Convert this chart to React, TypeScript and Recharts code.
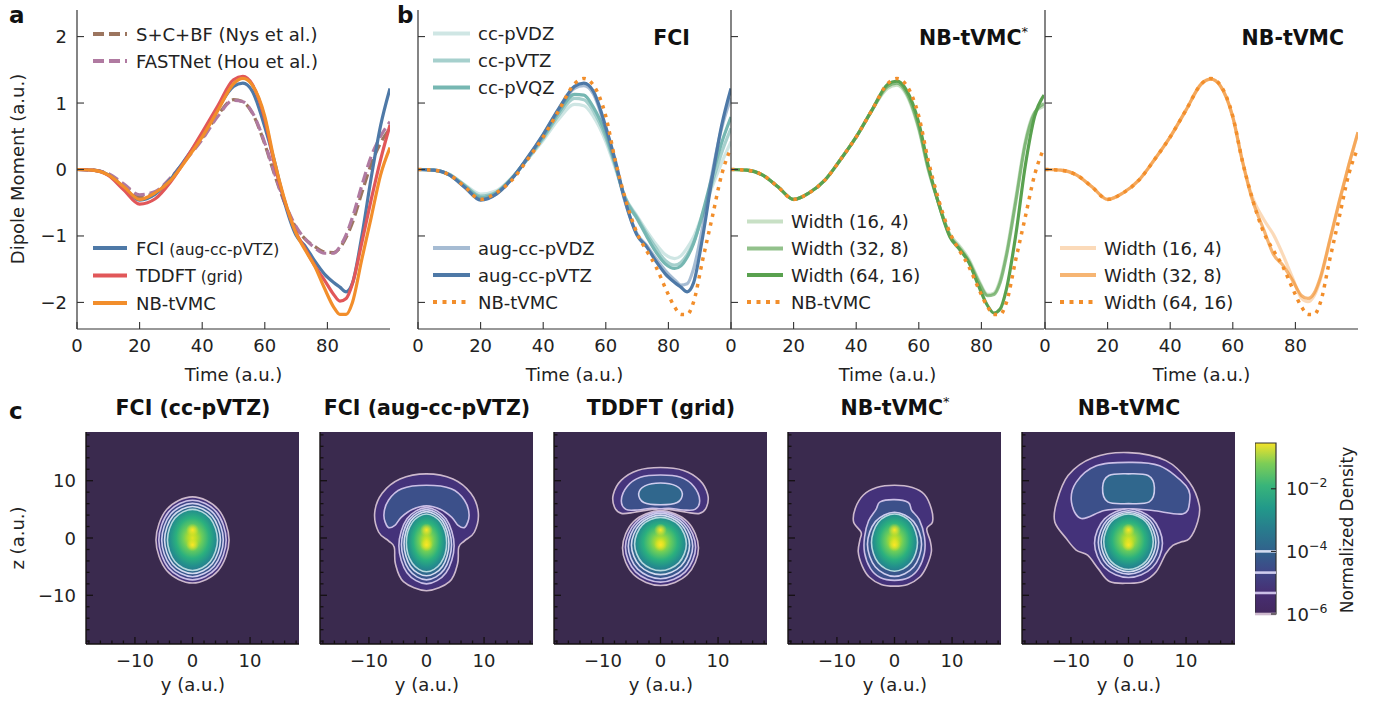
import React from "react";
import {
  LineChart,
  Line,
  XAxis,
  YAxis,
  ScatterChart,
  Scatter,
  CartesianGrid,
  ReferenceArea,
  ReferenceLine,
} from "recharts";

// ---------- dipole moment traces (panel a + b) ----------
const TIME = [0, 5, 10, 15, 20, 25, 30, 35, 40, 45, 50, 53, 56, 60, 63, 66, 70, 73, 76, 79, 82, 84, 86, 88, 91, 94, 97, 100];

const NB_TVMC = [0, -0.01, -0.08, -0.26, -0.45, -0.35, -0.16, 0.15, 0.49, 0.89, 1.29, 1.37, 1.27, 0.8, 0.14, -0.4, -0.96, -1.22, -1.46, -1.78, -2.07, -2.18, -2.18, -2.0, -1.35, -0.72, -0.08, 0.33];
const FCI_AUG_TZ = [0, -0.01, -0.08, -0.27, -0.46, -0.37, -0.14, 0.18, 0.53, 0.92, 1.25, 1.3, 1.18, 0.64, 0.14, -0.44, -0.99, -1.16, -1.38, -1.57, -1.7, -1.77, -1.84, -1.71, -1.0, -0.12, 0.66, 1.22];
const FCI_AUG_DZ = [0, -0.01, -0.08, -0.27, -0.45, -0.37, -0.14, 0.17, 0.52, 0.9, 1.22, 1.26, 1.14, 0.6, 0.1, -0.46, -0.97, -1.14, -1.34, -1.52, -1.66, -1.74, -1.72, -1.5, -0.85, -0.05, 0.62, 1.08];
const FCI_DZ = [0, -0.01, -0.07, -0.23, -0.37, -0.32, -0.12, 0.15, 0.44, 0.76, 0.98, 0.96, 0.8, 0.42, 0.02, -0.4, -0.7, -0.92, -1.12, -1.28, -1.34, -1.3, -1.18, -1.02, -0.66, -0.26, 0.1, 0.42];
const FCI_TZ = [0, -0.01, -0.07, -0.24, -0.4, -0.34, -0.13, 0.16, 0.47, 0.82, 1.07, 1.05, 0.88, 0.48, 0.06, -0.4, -0.72, -0.96, -1.18, -1.37, -1.44, -1.4, -1.28, -1.1, -0.68, -0.2, 0.25, 0.62];
const FCI_QZ = [0, -0.01, -0.08, -0.25, -0.42, -0.35, -0.13, 0.17, 0.49, 0.86, 1.13, 1.12, 0.94, 0.53, 0.08, -0.42, -0.74, -1.0, -1.24, -1.42, -1.49, -1.45, -1.32, -1.12, -0.64, -0.1, 0.4, 0.79];
const TDDFT_GRID = [0, -0.01, -0.09, -0.31, -0.52, -0.44, -0.18, 0.17, 0.56, 0.96, 1.35, 1.4, 1.28, 0.76, 0.1, -0.42, -0.95, -1.2, -1.45, -1.66, -1.88, -1.98, -1.94, -1.72, -1.1, -0.45, 0.15, 0.67];
const SCBF_NYS = [0, -0.01, -0.07, -0.24, -0.41, -0.35, -0.13, 0.17, 0.47, 0.82, 1.05, 1.02, 0.85, 0.38, -0.06, -0.46, -0.88, -1.05, -1.16, -1.24, -1.25, -1.18, -1.02, -0.8, -0.35, 0.08, 0.4, 0.62];
const FASTNET_HOU = [0, -0.01, -0.06, -0.22, -0.38, -0.33, -0.12, 0.16, 0.45, 0.8, 1.04, 1.02, 0.86, 0.4, -0.04, -0.45, -0.86, -1.05, -1.18, -1.26, -1.26, -1.16, -0.98, -0.72, -0.24, 0.2, 0.5, 0.72];
const STAR_W16 = [0, -0.01, -0.08, -0.26, -0.45, -0.35, -0.16, 0.15, 0.49, 0.89, 1.22, 1.27, 1.13, 0.6, 0.0, -0.46, -0.98, -1.15, -1.35, -1.65, -1.88, -1.86, -1.66, -1.25, -0.42, 0.42, 0.86, 0.95];
const STAR_W32 = [0, -0.01, -0.08, -0.26, -0.45, -0.35, -0.16, 0.15, 0.49, 0.89, 1.25, 1.3, 1.16, 0.63, 0.02, -0.46, -1.0, -1.18, -1.38, -1.68, -1.9, -1.88, -1.7, -1.3, -0.48, 0.38, 0.85, 0.99];
const STAR_W64 = [0, -0.01, -0.08, -0.26, -0.45, -0.35, -0.16, 0.15, 0.49, 0.89, 1.28, 1.33, 1.2, 0.7, 0.06, -0.46, -1.02, -1.2, -1.4, -1.74, -2.05, -2.16, -2.1, -1.8, -0.98, 0.05, 0.8, 1.12];
const NB_W16 = [0, -0.01, -0.08, -0.26, -0.45, -0.35, -0.16, 0.15, 0.49, 0.89, 1.29, 1.36, 1.26, 0.79, 0.14, -0.38, -0.76, -0.98, -1.28, -1.62, -1.94, -1.99, -1.9, -1.65, -1.08, -0.5, 0.05, 0.56];
const NB_W32 = [0, -0.01, -0.08, -0.26, -0.45, -0.35, -0.16, 0.15, 0.49, 0.89, 1.29, 1.36, 1.26, 0.79, 0.14, -0.42, -0.92, -1.28, -1.44, -1.66, -1.9, -1.94, -1.86, -1.62, -1.06, -0.48, 0.06, 0.56];

const TIME_TICKS = [0, 20, 40, 60, 80];
const DIPOLE_TICKS = [-2, -1, 0, 1, 2];

const ROWS = TIME.map((t, i) => ({
  t,
  nb: NB_TVMC[i],
  augTz: FCI_AUG_TZ[i],
  augDz: FCI_AUG_DZ[i],
  dz: FCI_DZ[i],
  tz: FCI_TZ[i],
  qz: FCI_QZ[i],
  tddft: TDDFT_GRID[i],
  scbf: SCBF_NYS[i],
  fast: FASTNET_HOU[i],
  s16: STAR_W16[i],
  s32: STAR_W32[i],
  s64: STAR_W64[i],
  n16: NB_W16[i],
  n32: NB_W32[i],
}));

// ---------- density contours (panel c), points are [y, z] in a.u. ----------
const TZ_L1 = [[0, 7.17], [4.49, 4.97], [6.35, -0.35], [4.49, -5.66], [0, -7.86], [-4.49, -5.66], [-6.35, -0.35], [-4.49, 4.97]];
const TZ_L2 = [[0, 6.6], [4.14, 4.56], [5.85, -0.35], [4.14, -5.26], [0, -7.3], [-4.14, -5.26], [-5.85, -0.35], [-4.14, 4.56]];
const TZ_L3 = [[0, 6.05], [3.78, 4.17], [5.35, -0.35], [3.78, -4.87], [0, -6.75], [-3.78, -4.87], [-5.35, -0.35], [-3.78, 4.17]];
const TZ_L4 = [[0, 5.5], [3.43, 3.79], [4.85, -0.35], [3.43, -4.49], [0, -6.2], [-3.43, -4.49], [-4.85, -0.35], [-3.43, 3.79]];
const TZ_L5 = [[0, 5.0], [3.08, 3.44], [4.35, -0.34], [3.08, -4.12], [0, -5.68], [-3.08, -4.12], [-4.35, -0.34], [-3.08, 3.44]];

const ATZ_L1 = [[0, 11.2], [4.6, 10.3], [7.7, 7.8], [9.0, 4.4], [8.3, 1.0], [6.6, -0.5], [5.6, -1.6], [5.4, -4.5], [4.0, -7.6], [0, -9.2], [-4.0, -7.6], [-5.4, -4.5], [-5.6, -1.6], [-6.6, -0.5], [-8.3, 1.0], [-9.0, 4.4], [-7.7, 7.8], [-4.6, 10.3]];
const ATZ_CAP = [[0, 9.2], [4.3, 8.6], [6.6, 6.6], [7.4, 4.0], [6.7, 1.9], [5.5, 2.2], [4.4, 3.6], [2.4, 5.0], [0, 5.6], [-2.4, 5.0], [-4.4, 3.6], [-5.5, 2.2], [-6.7, 1.9], [-7.4, 4.0], [-6.6, 6.6], [-4.3, 8.6]];
const ATZ_L2 = [[0, 5.3], [3.39, 3.35], [4.8, -1.35], [3.39, -6.05], [0, -8.0], [-3.39, -6.05], [-4.8, -1.35], [-3.39, 3.35]];
const ATZ_L3 = [[0, 4.95], [3.08, 3.15], [4.35, -1.18], [3.08, -5.51], [0, -7.3], [-3.08, -5.51], [-4.35, -1.18], [-3.08, 3.15]];
const ATZ_L4 = [[0, 4.6], [2.76, 2.96], [3.9, -1.0], [2.76, -4.96], [0, -6.6], [-2.76, -4.96], [-3.9, -1.0], [-2.76, 2.96]];
const ATZ_L5 = [[0, 4.2], [2.47, 2.72], [3.5, -0.85], [2.47, -4.42], [0, -5.9], [-2.47, -4.42], [-3.5, -0.85], [-2.47, 2.72]];

const GRID_CAP1 = [[0, 12.3], [4.0, 11.8], [6.8, 10.1], [8.2, 7.6], [8.0, 5.4], [6.8, 4.3], [4.5, 4.5], [1.5, 5.0], [0, 4.8], [-1.5, 5.0], [-4.5, 4.5], [-6.8, 4.3], [-8.0, 5.4], [-8.2, 7.6], [-6.8, 10.1], [-4.0, 11.8]];
const GRID_CAP2 = [[0, 11.0], [3.5, 10.6], [5.8, 9.0], [6.8, 6.6], [6.0, 5.0], [4.0, 4.9], [1.5, 5.2], [0, 5.1], [-1.5, 5.2], [-4.0, 4.9], [-6.0, 5.0], [-6.8, 6.6], [-5.8, 9.0], [-3.5, 10.6]];
const GRID_CAP3 = [[0, 9.6], [2.7, 9.1], [3.8, 7.7], [2.9, 6.2], [0, 5.8], [-2.9, 6.2], [-3.8, 7.7], [-2.7, 9.1]];
const GRID_L1 = [[0, 4.8], [4.67, 2.88], [6.6, -1.75], [4.67, -6.38], [0, -8.3], [-4.67, -6.38], [-6.6, -1.75], [-4.67, 2.88]];
const GRID_L2 = [[0, 4.6], [4.31, 2.71], [6.1, -1.6], [4.31, -5.91], [0, -7.7], [-4.31, -5.91], [-6.1, -1.6], [-4.31, 2.71]];
const GRID_L3 = [[0, 4.35], [3.96, 2.54], [5.6, -1.45], [3.96, -5.44], [0, -7.1], [-3.96, -5.44], [-5.6, -1.45], [-3.96, 2.54]];
const GRID_L4 = [[0, 4.0], [3.57, 2.39], [5.05, -1.25], [3.57, -4.89], [0, -6.4], [-3.57, -4.89], [-5.05, -1.25], [-3.57, 2.39]];
const GRID_L5 = [[0, 3.6], [3.18, 2.24], [4.5, -1.05], [3.18, -4.34], [0, -5.7], [-3.18, -4.34], [-4.5, -1.05], [-3.18, 2.24]];

const STAR_L1 = [[0, 9.2], [3.1, 8.8], [5.2, 7.6], [6.4, 5.1], [6.6, 2.8], [5.6, 1.6], [6.2, -0.5], [6.4, -2.4], [5.6, -4.9], [4.4, -6.8], [2.3, -8.1], [0, -8.4], [-2.3, -8.1], [-4.4, -6.8], [-5.6, -4.9], [-6.3, -2.4], [-6.0, -0.3], [-5.8, 1.0], [-7.1, 2.8], [-6.8, 5.2], [-5.4, 7.5], [-3.1, 8.8]];
const STAR_L2 = [[0, 6.7], [2.4, 6.2], [3.0, 4.8], [4.3, 3.2], [5.2, 0.2], [5.2, -2.6], [4.2, -5.3], [2.5, -6.9], [0, -7.4], [-2.5, -6.9], [-4.2, -5.3], [-5.2, -2.6], [-5.2, 0.2], [-4.5, 3.0], [-3.2, 5.0], [-2.5, 6.3]];
const STAR_L3 = [[0, 4.5], [3.32, 2.86], [4.7, -1.1], [3.32, -5.06], [0, -6.7], [-3.32, -5.06], [-4.7, -1.1], [-3.32, 2.86]];
const STAR_L5 = [[0, 4.2], [2.83, 2.74], [4.0, -0.8], [2.83, -4.34], [0, -5.8], [-2.83, -4.34], [-4.0, -0.8], [-2.83, 2.74]];

const NB_L1 = [[0, 14.9], [6.5, 13.5], [10.6, 9.7], [12.3, 5.7], [12.0, 2.8], [10.6, -0.1], [9.1, -0.7], [7.7, -1.3], [6.5, -2.7], [4.8, -5.9], [2.5, -7.6], [0, -7.9], [-3.3, -7.6], [-5.3, -5.3], [-7.1, -3.0], [-9.1, -2.1], [-10.8, -0.1], [-12.8, 2.8], [-12.5, 6.2], [-10.5, 10.9], [-6.2, 14.0]];
const NB_CAP2 = [[0, 13.2], [5.4, 12.6], [10.0, 9.1], [10.6, 6.2], [9.4, 4.2], [4.2, 4.8], [0, 5.1], [-4.2, 4.8], [-8.2, 3.4], [-9.9, 6.2], [-9.1, 9.7], [-5.6, 12.6]];
const NB_CAP3 = [[0, 11.2], [3.4, 10.9], [4.5, 8.8], [3.6, 6.3], [0, 6.0], [-3.6, 6.3], [-4.5, 8.8], [-3.4, 10.9]];
const NB_L2 = [[0, 5.1], [4.17, 3.34], [5.9, -0.9], [4.17, -5.14], [0, -6.9], [-4.17, -5.14], [-5.9, -0.9], [-4.17, 3.34]];
const NB_L3 = [[0, 4.75], [3.71, 3.13], [5.25, -0.78], [3.71, -4.68], [0, -6.3], [-3.71, -4.68], [-5.25, -0.78], [-3.71, 3.13]];
const NB_L4 = [[0, 4.45], [3.36, 2.93], [4.75, -0.73], [3.36, -4.38], [0, -5.9], [-3.36, -4.38], [-4.75, -0.73], [-3.36, 2.93]];
const NB_L5 = [[0, 4.2], [3.04, 2.78], [4.3, -0.65], [3.04, -4.08], [0, -5.5], [-3.04, -4.08], [-4.3, -0.65], [-3.04, 2.78]];

const NUCLEI = [[0, 1.4], [0, -1.2]];
const MAP_TICKS = [-18, -16, -14, -12, -10, -8, -6, -4, -2, 0, 2, 4, 6, 8, 10, 12, 14, 16, 18];
const MAP_DOMAIN = [-18.5, 18.5];

const DENSITY_TICKS = [1e-6, 1e-4, 1e-2];
const CONTOUR_LEVELS = [1e-6, 4.7e-6, 2.1e-5, 1e-4];
const DENSITY_TOP = 0.29;

// ---------- styling ----------
const FONT = "'DejaVu Sans', sans-serif";
const FS = 18;
const AX = "#333";
const MAP_AX = "#151012";
const TXT = "#222";
const C = {
  blue: "#4e79a7",
  orange: "#f28e2b",
  red: "#e15759",
  teal: "#76b7b2",
  green: "#59a14f",
  brown: "#9c755f",
  purple: "#b07aa1",
};
const DASH = "11 5";
const DOT = "3.5 5.5";
const BG = "#3a2a4e";
const LEVEL_STROKE = ["", "#cdb9cd", "#cbbfe6", "#cfcdee", "#d4dbf0", "#b5d9de"];
const LEVEL_FILL = ["", "#44327a", "#3e4486", "#38568b", "#2f6a8d", "core"];
const CAP_FILL = ["", "#45347c", "#3c508a", "#30678d"];

type Style = { key: string; color: string; opacity?: number; dash?: string };

const PANEL_A: Style[] = [
  { key: "scbf", color: C.brown, dash: DASH },
  { key: "fast", color: C.purple, dash: DASH },
  { key: "augTz", color: C.blue },
  { key: "tddft", color: C.red },
  { key: "nb", color: C.orange },
];
const PANEL_FCI: Style[] = [
  { key: "dz", color: C.teal, opacity: 0.35 },
  { key: "tz", color: C.teal, opacity: 0.65 },
  { key: "qz", color: C.teal },
  { key: "augDz", color: C.blue, opacity: 0.5 },
  { key: "augTz", color: C.blue },
  { key: "nb", color: C.orange, dash: DOT },
];
const PANEL_STAR: Style[] = [
  { key: "s16", color: C.green, opacity: 0.33 },
  { key: "s32", color: C.green, opacity: 0.66 },
  { key: "s64", color: C.green },
  { key: "nb", color: C.orange, dash: DOT },
];
const PANEL_NB: Style[] = [
  { key: "n16", color: C.orange, opacity: 0.33 },
  { key: "n32", color: C.orange, opacity: 0.66 },
  { key: "nb", color: C.orange, dash: DOT },
];

const fmt = (v: number) => (v < 0 ? `\u2212${Math.abs(v)}` : `${v}`);

// ticks drawn inward, matplotlib style
const makeTick =
  (side: "bottom" | "top" | "left" | "right", labels = false, minor = false, color = AX) =>
  (p: any) => {
    const v = p.payload.value as number;
    const major = !minor || v % 10 === 0;
    const len = major ? 7 : 3.5;
    const { x, y } = p;
    const sw = minor ? 1.3 : 1.1;
    let l;
    if (side === "bottom") l = <line x1={x} x2={x} y1={y} y2={y - len} stroke={color} strokeWidth={sw} />;
    else if (side === "top") l = <line x1={x} x2={x} y1={y} y2={y + len} stroke={color} strokeWidth={sw} />;
    else if (side === "left") l = <line x1={x} x2={x + len} y1={y} y2={y} stroke={color} strokeWidth={sw} />;
    else l = <line x1={x} x2={x - len} y1={y} y2={y} stroke={color} strokeWidth={sw} />;
    let t = null;
    if (labels && major) {
      t =
        side === "bottom" ? (
          <text x={x} y={y + 22.5} textAnchor="middle" fontSize={FS} fill={TXT} fontFamily={FONT}>
            {fmt(v)}
          </text>
        ) : (
          <text x={x - 10} y={y + 6.5} textAnchor="end" fontSize={FS} fill={TXT} fontFamily={FONT}>
            {fmt(v)}
          </text>
        );
    }
    return (
      <g>
        {l}
        {t}
      </g>
    );
  };

function DipoleChart({ left, lines, yLabels }: { left: number; lines: Style[]; yLabels: boolean }) {
  return (
    <div style={{ position: "absolute", left: left - 60, top: 0 }}>
      <LineChart width={385} height={390} data={ROWS} margin={{ top: 10, right: 12, bottom: 0, left: 0 }}>
        <XAxis dataKey="t" type="number" domain={[0, 100]} ticks={TIME_TICKS} interval={0} height={61}
          tickSize={0} tickMargin={0} tickLine={false} axisLine={{ stroke: AX, strokeWidth: 1.2 }}
          tick={makeTick("bottom", true)} allowDataOverflow />
        <XAxis xAxisId="top" orientation="top" dataKey="t" type="number" domain={[0, 100]} height={0}
          tick={false} tickLine={false} axisLine={{ stroke: AX, strokeWidth: 1.2 }} allowDataOverflow />
        <YAxis type="number" domain={[-2.4, 2.4]} ticks={DIPOLE_TICKS} interval={0} width={60}
          tickSize={0} tickMargin={0} tickLine={false} axisLine={{ stroke: AX, strokeWidth: 1.2 }}
          tick={makeTick("left", yLabels)} allowDataOverflow />
        <YAxis yAxisId="r" orientation="right" type="number" domain={[-2.4, 2.4]} ticks={DIPOLE_TICKS} interval={0}
          width={0} tickSize={0} tickMargin={0} tickLine={false} axisLine={{ stroke: AX, strokeWidth: 1.2 }}
          tick={makeTick("right")} allowDataOverflow />
        {lines.map((s) => (
          <Line key={s.key} dataKey={s.key} type="monotone" stroke={s.color} strokeOpacity={s.opacity ?? 1}
            strokeWidth={s.dash === DOT ? 3.5 : 3.2} strokeDasharray={s.dash} dot={false} isAnimationActive={false} />
        ))}
      </LineChart>
    </div>
  );
}

// closed Catmull-Rom path through the scaled contour points
function closedPath(pts: { x: number; y: number }[]) {
  const n = pts.length;
  let d = `M${pts[0].x},${pts[0].y}`;
  for (let i = 0; i < n; i++) {
    const p0 = pts[(i - 1 + n) % n];
    const p1 = pts[i];
    const p2 = pts[(i + 1) % n];
    const p3 = pts[(i + 2) % n];
    d += `C${p1.x + (p2.x - p0.x) / 6},${p1.y + (p2.y - p0.y) / 6} ${p2.x - (p3.x - p1.x) / 6},${p2.y - (p3.y - p1.y) / 6} ${p2.x},${p2.y}`;
  }
  return d + "Z";
}

type Shape = { pts: number[][]; level: number; cap?: boolean };

const MAPS: { left: number; shapes: Shape[] }[] = [
  {
    left: 86,
    shapes: [
      { pts: TZ_L1, level: 1 }, { pts: TZ_L2, level: 2 }, { pts: TZ_L3, level: 3 },
      { pts: TZ_L4, level: 4 }, { pts: TZ_L5, level: 5 },
    ],
  },
  {
    left: 320,
    shapes: [
      { pts: ATZ_L1, level: 1 }, { pts: ATZ_CAP, level: 2, cap: true }, { pts: ATZ_L2, level: 2 },
      { pts: ATZ_L3, level: 3 }, { pts: ATZ_L4, level: 4 }, { pts: ATZ_L5, level: 5 },
    ],
  },
  {
    left: 554,
    shapes: [
      { pts: GRID_CAP1, level: 1, cap: true }, { pts: GRID_CAP2, level: 2, cap: true }, { pts: GRID_CAP3, level: 3, cap: true },
      { pts: GRID_L1, level: 1 }, { pts: GRID_L2, level: 2 }, { pts: GRID_L3, level: 3 },
      { pts: GRID_L4, level: 4 }, { pts: GRID_L5, level: 5 },
    ],
  },
  {
    left: 788,
    shapes: [
      { pts: STAR_L1, level: 1 }, { pts: STAR_L2, level: 2, cap: true }, { pts: STAR_L3, level: 3 },
      { pts: STAR_L5, level: 5 },
    ],
  },
  {
    left: 1022,
    shapes: [
      { pts: NB_L1, level: 1 }, { pts: NB_CAP2, level: 2, cap: true }, { pts: NB_CAP3, level: 3, cap: true },
      { pts: NB_L2, level: 2 }, { pts: NB_L3, level: 3 }, { pts: NB_L4, level: 4 }, { pts: NB_L5, level: 5 },
    ],
  },
];

const noDot = () => <g />;

function DensityMap({ idx, left, shapes }: { idx: number; left: number; shapes: Shape[] }) {
  const core = `core-${idx}`;
  const spot = `spot-${idx}`;
  const axLine = { stroke: MAP_AX, strokeWidth: 1.4 };
  return (
    <div style={{ position: "absolute", left: left - 50, top: 420 }}>
      <ScatterChart width={273} height={280} margin={{ top: 12, right: 10, bottom: 0, left: 0 }}>
        <defs>
          <radialGradient id={core} cx="0.5" cy="0.47" r="0.55">
            <stop offset="0" stopColor="#e2e322" />
            <stop offset="0.15" stopColor="#b6dd2c" />
            <stop offset="0.35" stopColor="#6acc5b" />
            <stop offset="0.6" stopColor="#2bb07e" />
            <stop offset="0.82" stopColor="#23908c" />
            <stop offset="1" stopColor="#2a7590" />
          </radialGradient>
          <radialGradient id={spot}>
            <stop offset="0" stopColor="#fde725" stopOpacity={1} />
            <stop offset="0.5" stopColor="#f0e525" stopOpacity={0.55} />
            <stop offset="1" stopColor="#d8e220" stopOpacity={0} />
          </radialGradient>
        </defs>
        <CartesianGrid horizontal={false} vertical={false} fill={BG} fillOpacity={1} />
        {shapes.map((s, i) => {
          const fill = s.level === 5 ? `url(#${core})` : s.cap ? CAP_FILL[s.level] : LEVEL_FILL[s.level];
          return (
            <Scatter key={i} data={s.pts.map(([y, z]) => ({ y, z }))} shape={noDot} isAnimationActive={false}
              line={(p: any) => (
                <path d={closedPath(p.points)} fill={fill} stroke={LEVEL_STROKE[s.level]} strokeWidth={1.6} />
              )} />
          );
        })}
        <Scatter data={NUCLEI.map(([y, z]) => ({ y, z }))} isAnimationActive={false}
          shape={(p: any) => <circle cx={p.cx} cy={p.cy} r={6.5} fill={`url(#${spot})`} />} />
        <XAxis dataKey="y" type="number" domain={MAP_DOMAIN} ticks={MAP_TICKS} interval={0} height={56}
          tickSize={0} tickMargin={0} tickLine={false} axisLine={axLine}
          tick={makeTick("bottom", true, true, MAP_AX)} allowDataOverflow />
        <XAxis xAxisId="top" orientation="top" dataKey="y" type="number" domain={MAP_DOMAIN} ticks={MAP_TICKS}
          interval={0} height={0} tickSize={0} tickMargin={0} tickLine={false}
          axisLine={axLine} tick={makeTick("top", false, true, MAP_AX)} allowDataOverflow />
        <YAxis dataKey="z" type="number" domain={MAP_DOMAIN} ticks={MAP_TICKS} interval={0} width={50}
          tickSize={0} tickMargin={0} tickLine={false} axisLine={axLine}
          tick={makeTick("left", idx === 0, true, MAP_AX)} allowDataOverflow />
        <YAxis yAxisId="r" orientation="right" dataKey="z" type="number" domain={MAP_DOMAIN} ticks={MAP_TICKS}
          interval={0} width={0} tickSize={0} tickMargin={0} tickLine={false}
          axisLine={axLine} tick={makeTick("right", false, true, MAP_AX)} allowDataOverflow />
      </ScatterChart>
    </div>
  );
}

function ColorBar() {
  return (
    <div style={{ position: "absolute", left: 1255, top: 433 }}>
      <ScatterChart width={81} height={191} margin={{ top: 10, right: 0, bottom: 10, left: 0 }}>
        <defs>
          <linearGradient id="viridis" x1="0" y1="1" x2="0" y2="0">
            <stop offset="0" stopColor="#43285e" />
            <stop offset="0.12" stopColor="#472e72" />
            <stop offset="0.25" stopColor="#3f4787" />
            <stop offset="0.37" stopColor="#31628c" />
            <stop offset="0.5" stopColor="#287d8d" />
            <stop offset="0.62" stopColor="#22998a" />
            <stop offset="0.75" stopColor="#38b47a" />
            <stop offset="0.88" stopColor="#7ccd57" />
            <stop offset="1" stopColor="#f4e329" />
          </linearGradient>
        </defs>
        <XAxis type="number" dataKey="x" domain={[0, 1]} hide allowDataOverflow />
        <YAxis orientation="right" type="number" dataKey="v" scale="log" domain={[1e-6, DENSITY_TOP]}
          ticks={DENSITY_TICKS} interval={0} width={60} tickSize={0} tickMargin={0} tickLine={false} axisLine={false}
          allowDataOverflow
          tick={(p: any) => (
            <g>
              <line x1={p.x - 5} x2={p.x} y1={p.y} y2={p.y} stroke="#222" strokeWidth={1.1} />
              <text x={p.x + 10} y={p.y + 6.5} fontSize={FS} fill={TXT} fontFamily={FONT}>
                10
                <tspan dy={-8} fontSize={12.5}>{`\u2212${Math.round(-Math.log10(p.payload.value))}`}</tspan>
              </text>
            </g>
          )} />
        <ReferenceArea x1={0} x2={1} y1={1e-6} y2={DENSITY_TOP} fill="url(#viridis)" fillOpacity={1}
          stroke="#333" strokeWidth={1.2} ifOverflow="visible" />
        {CONTOUR_LEVELS.map((v, i) => (
          <ReferenceLine key={v} y={v} stroke={LEVEL_STROKE[i + 1]} strokeWidth={2.6} ifOverflow="visible" />
        ))}
        <Scatter data={CONTOUR_LEVELS.map((v) => ({ x: 0.5, v }))} shape={noDot} isAnimationActive={false} />
      </ScatterChart>
    </div>
  );
}

function KeyRow({ x1, x2, tx, y, s, label, note }: { x1: number; x2: number; tx: number; y: number; s: Style; label: string; note?: string }) {
  return (
    <g>
      <line x1={x1} x2={x2} y1={y} y2={y} stroke={s.color} strokeOpacity={s.opacity ?? 1} strokeWidth={4}
        strokeDasharray={s.dash === DOT ? "4 5.5" : s.dash} />
      <text x={tx} y={y + 6.5} fontSize={FS} fill={TXT}>
        {label}
        {note && <tspan fontSize={15.5}>{` ${note}`}</tspan>}
      </text>
    </g>
  );
}

function Overlay() {
  const mapCenters = [193, 427, 661, 895, 1129];
  const mapTitles = ["FCI (cc-pVTZ)", "FCI (aug-cc-pVTZ)", "TDDFT (grid)", "NB-tVMC", "NB-tVMC"];
  return (
    <svg width={1377} height={702} style={{ position: "absolute", left: 0, top: 0, pointerEvents: "none" }} fontFamily={FONT}>
      {/* panel letters */}
      <text x={9} y={23} fontSize={23} fontWeight="bold" fill="#111">a</text>
      <text x={397} y={23} fontSize={23} fontWeight="bold" fill="#111">b</text>
      <text x={9} y={419} fontSize={23} fontWeight="bold" fill="#111">c</text>

      {/* axis labels */}
      <text transform="translate(24,169) rotate(-90)" textAnchor="middle" fontSize={FS} fill={TXT}>Dipole Moment (a.u.)</text>
      {[233.5, 574.5, 887.5, 1201.5].map((x) => (
        <text key={x} x={x} y={381} textAnchor="middle" fontSize={FS} fill={TXT}>Time (a.u.)</text>
      ))}
      {mapCenters.map((x) => (
        <text key={x} x={x} y={691} textAnchor="middle" fontSize={FS} fill={TXT}>y (a.u.)</text>
      ))}
      <text transform="translate(24,538) rotate(-90)" textAnchor="middle" fontSize={FS} fill={TXT}>z (a.u.)</text>
      <text transform="translate(1353,530) rotate(-90)" textAnchor="middle" fontSize={17} fill={TXT}>Normalized Density</text>

      {/* subplot titles */}
      <text x={690} y={45} textAnchor="end" fontSize={20.5} fontWeight="bold" fill="#111">FCI</text>
      <text x={1028} y={45} textAnchor="end" fontSize={20.5} fontWeight="bold" fill="#111">
        NB-tVMC<tspan dy={-9} fontSize={13} fontWeight="normal">*</tspan>
      </text>
      <text x={1344} y={45} textAnchor="end" fontSize={20.5} fontWeight="bold" fill="#111">NB-tVMC</text>
      {mapCenters.map((x, i) => (
        <text key={x} x={x} y={415} textAnchor="middle" fontSize={20.5} fontWeight="bold" fill="#111">
          {mapTitles[i]}
          {i === 3 && <tspan dy={-9} fontSize={13} fontWeight="normal">*</tspan>}
        </text>
      ))}

      {/* legends panel a */}
      <KeyRow x1={93} x2={127} tx={136} y={34} s={PANEL_A[0]} label="S+C+BF (Nys et al.)" />
      <KeyRow x1={93} x2={127} tx={136} y={61} s={PANEL_A[1]} label="FASTNet (Hou et al.)" />
      <KeyRow x1={93} x2={127} tx={136} y={248} s={PANEL_A[2]} label="FCI" note="(aug-cc-pVTZ)" />
      <KeyRow x1={93} x2={127} tx={136} y={275.5} s={PANEL_A[3]} label="TDDFT" note="(grid)" />
      <KeyRow x1={93} x2={127} tx={136} y={303} s={PANEL_A[4]} label="NB-tVMC" />

      {/* legends panel b, FCI */}
      <KeyRow x1={433} x2={470} tx={478} y={33.5} s={PANEL_FCI[0]} label="cc-pVDZ" />
      <KeyRow x1={433} x2={470} tx={478} y={60.5} s={PANEL_FCI[1]} label="cc-pVTZ" />
      <KeyRow x1={433} x2={470} tx={478} y={87.5} s={PANEL_FCI[2]} label="cc-pVQZ" />
      <KeyRow x1={433} x2={470} tx={478} y={248} s={PANEL_FCI[3]} label="aug-cc-pVDZ" />
      <KeyRow x1={433} x2={470} tx={478} y={275} s={PANEL_FCI[4]} label="aug-cc-pVTZ" />
      <KeyRow x1={433} x2={470} tx={478} y={302} s={PANEL_FCI[5]} label="NB-tVMC" />

      {/* legends panel b, NB-tVMC* */}
      <KeyRow x1={747} x2={783} tx={791} y={221.5} s={PANEL_STAR[0]} label="Width (16, 4)" />
      <KeyRow x1={747} x2={783} tx={791} y={248.5} s={PANEL_STAR[1]} label="Width (32, 8)" />
      <KeyRow x1={747} x2={783} tx={791} y={275} s={PANEL_STAR[2]} label="Width (64, 16)" />
      <KeyRow x1={747} x2={783} tx={791} y={302} s={PANEL_STAR[3]} label="NB-tVMC" />

      {/* legends panel b, NB-tVMC */}
      <KeyRow x1={1060} x2={1096} tx={1104} y={248} s={PANEL_NB[0]} label="Width (16, 4)" />
      <KeyRow x1={1060} x2={1096} tx={1104} y={275} s={PANEL_NB[1]} label="Width (32, 8)" />
      <KeyRow x1={1060} x2={1096} tx={1104} y={302} s={PANEL_NB[2]} label="Width (64, 16)" />
    </svg>
  );
}

export default function App() {
  return (
    <div style={{ position: "absolute", left: 0, top: 0, width: 1377, height: 702, background: "#fff", fontFamily: FONT }}>
      <DipoleChart left={77} lines={PANEL_A} yLabels />
      <DipoleChart left={418} lines={PANEL_FCI} yLabels={false} />
      <DipoleChart left={731} lines={PANEL_STAR} yLabels={false} />
      <DipoleChart left={1045} lines={PANEL_NB} yLabels={false} />
      {MAPS.map((m, i) => (
        <DensityMap key={i} idx={i} left={m.left} shapes={m.shapes} />
      ))}
      <ColorBar />
      <Overlay />
    </div>
  );
}
